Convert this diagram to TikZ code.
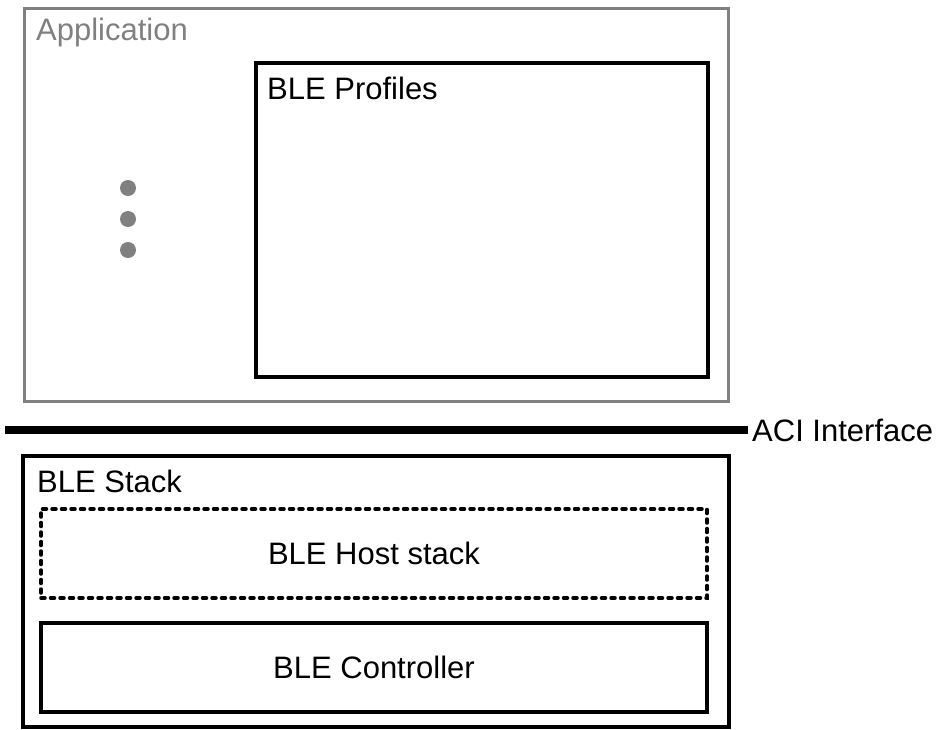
\documentclass[tikz,border=0pt]{standalone}
\usepackage{fontspec}
\setmainfont{Liberation Sans}
\definecolor{appgray}{HTML}{808080}
\begin{document}
\begin{tikzpicture}[x=1pt,y=-1pt,
  every node/.style={font=\fontsize{31}{37}\selectfont},
  graybox/.style={draw=appgray,line width=3pt,inner sep=0pt,outer sep=0pt},
  blackbox/.style={draw=black,line width=3.5pt,inner sep=0pt,outer sep=0pt},
  dashbox/.style={draw=black,line width=3.5pt,inner sep=0pt,outer sep=0pt,dash pattern=on 4pt off 5.5pt,line cap=round},
  lbl/.style={anchor=base west,inner sep=0pt},
  dot/.style={circle,fill=appgray,minimum size=16pt,inner sep=0pt}
]
\useasboundingbox (0,0) rectangle (941,729);
\node[graybox,minimum width=704pt,minimum height=393pt] (app) at (376,204.5) {};
\node[lbl,text=appgray] (applbl) at (36,40) {Application};
\node[blackbox,minimum width=452pt,minimum height=314pt] (prof) at (482,220) {};
\node[lbl] (proflbl) at (267,99) {BLE Profiles};
\node[dot] (d1) at (128,188) {};
\node[dot] (d2) at (128,219) {};
\node[dot] (d3) at (128,250) {};
\coordinate (acistart) at (5,430);
\node[anchor=west,inner sep=4pt] (aci) at (748,430) {ACI Interface};
\draw[line width=8pt] (acistart) -- (aci.west);
\node[blackbox,minimum width=706pt,minimum height=271pt] (stack) at (376,591.5) {};
\node[lbl] (stacklbl) at (37,492) {BLE Stack};
\node[dashbox,minimum width=666pt,minimum height=89pt] (host) at (374,553.5) {BLE Host stack};
\node[blackbox,minimum width=666pt,minimum height=89pt] (ctrl) at (374,667.5) {BLE Controller};
\end{tikzpicture}
\end{document}
